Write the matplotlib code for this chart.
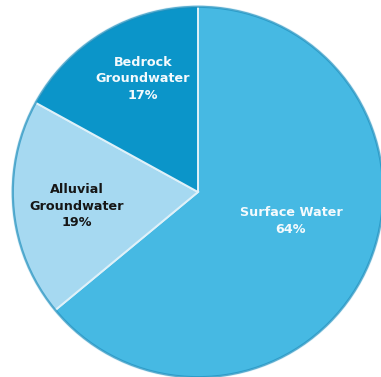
import matplotlib.pyplot as plt

# share of water use by source
sources = ["Surface Water", "Alluvial\nGroundwater", "Bedrock\nGroundwater"]
shares = [64, 19, 17]
colors = ["#46b9e3", "#a6d9f1", "#0b95c9"]
text_colors = ["#f4fafd", "#161616", "#f4fafd"]

# label spots, in pixels from the top-left corner
label_xy = [(291, 221), (77, 206), (143, 79)]

W, H = 381, 377
cx, cy, r = 198, H - 192, 186

fig = plt.figure(figsize=(W / 100, H / 100), dpi=100)
ax = fig.add_axes([0, 0, 1, 1])

wedges, _ = ax.pie(shares, colors=colors, startangle=90, counterclock=False,
                   center=(cx, cy), radius=r,
                   wedgeprops=dict(edgecolor="#dff1f9", linewidth=1.4))

# darker rim round the outside of the pie
rim = plt.Circle((cx, cy), r - 0.8, fill=False, edgecolor="#1f8fbd",
                 linewidth=1.6, alpha=0.7)
ax.add_patch(rim)

for name, val, (x, y), c in zip(sources, shares, label_xy, text_colors):
    ax.text(x, H - y, name + "\n" + str(val) + "%", ha="center", va="center",
            fontsize=9.2, fontweight="bold", color=c, linespacing=1.38,
            family="DejaVu Sans")

ax.set_xlim(0, W)
ax.set_ylim(0, H)
ax.set_aspect("equal")
ax.axis("off")

fig.savefig("out.png", dpi=100, facecolor="white")
